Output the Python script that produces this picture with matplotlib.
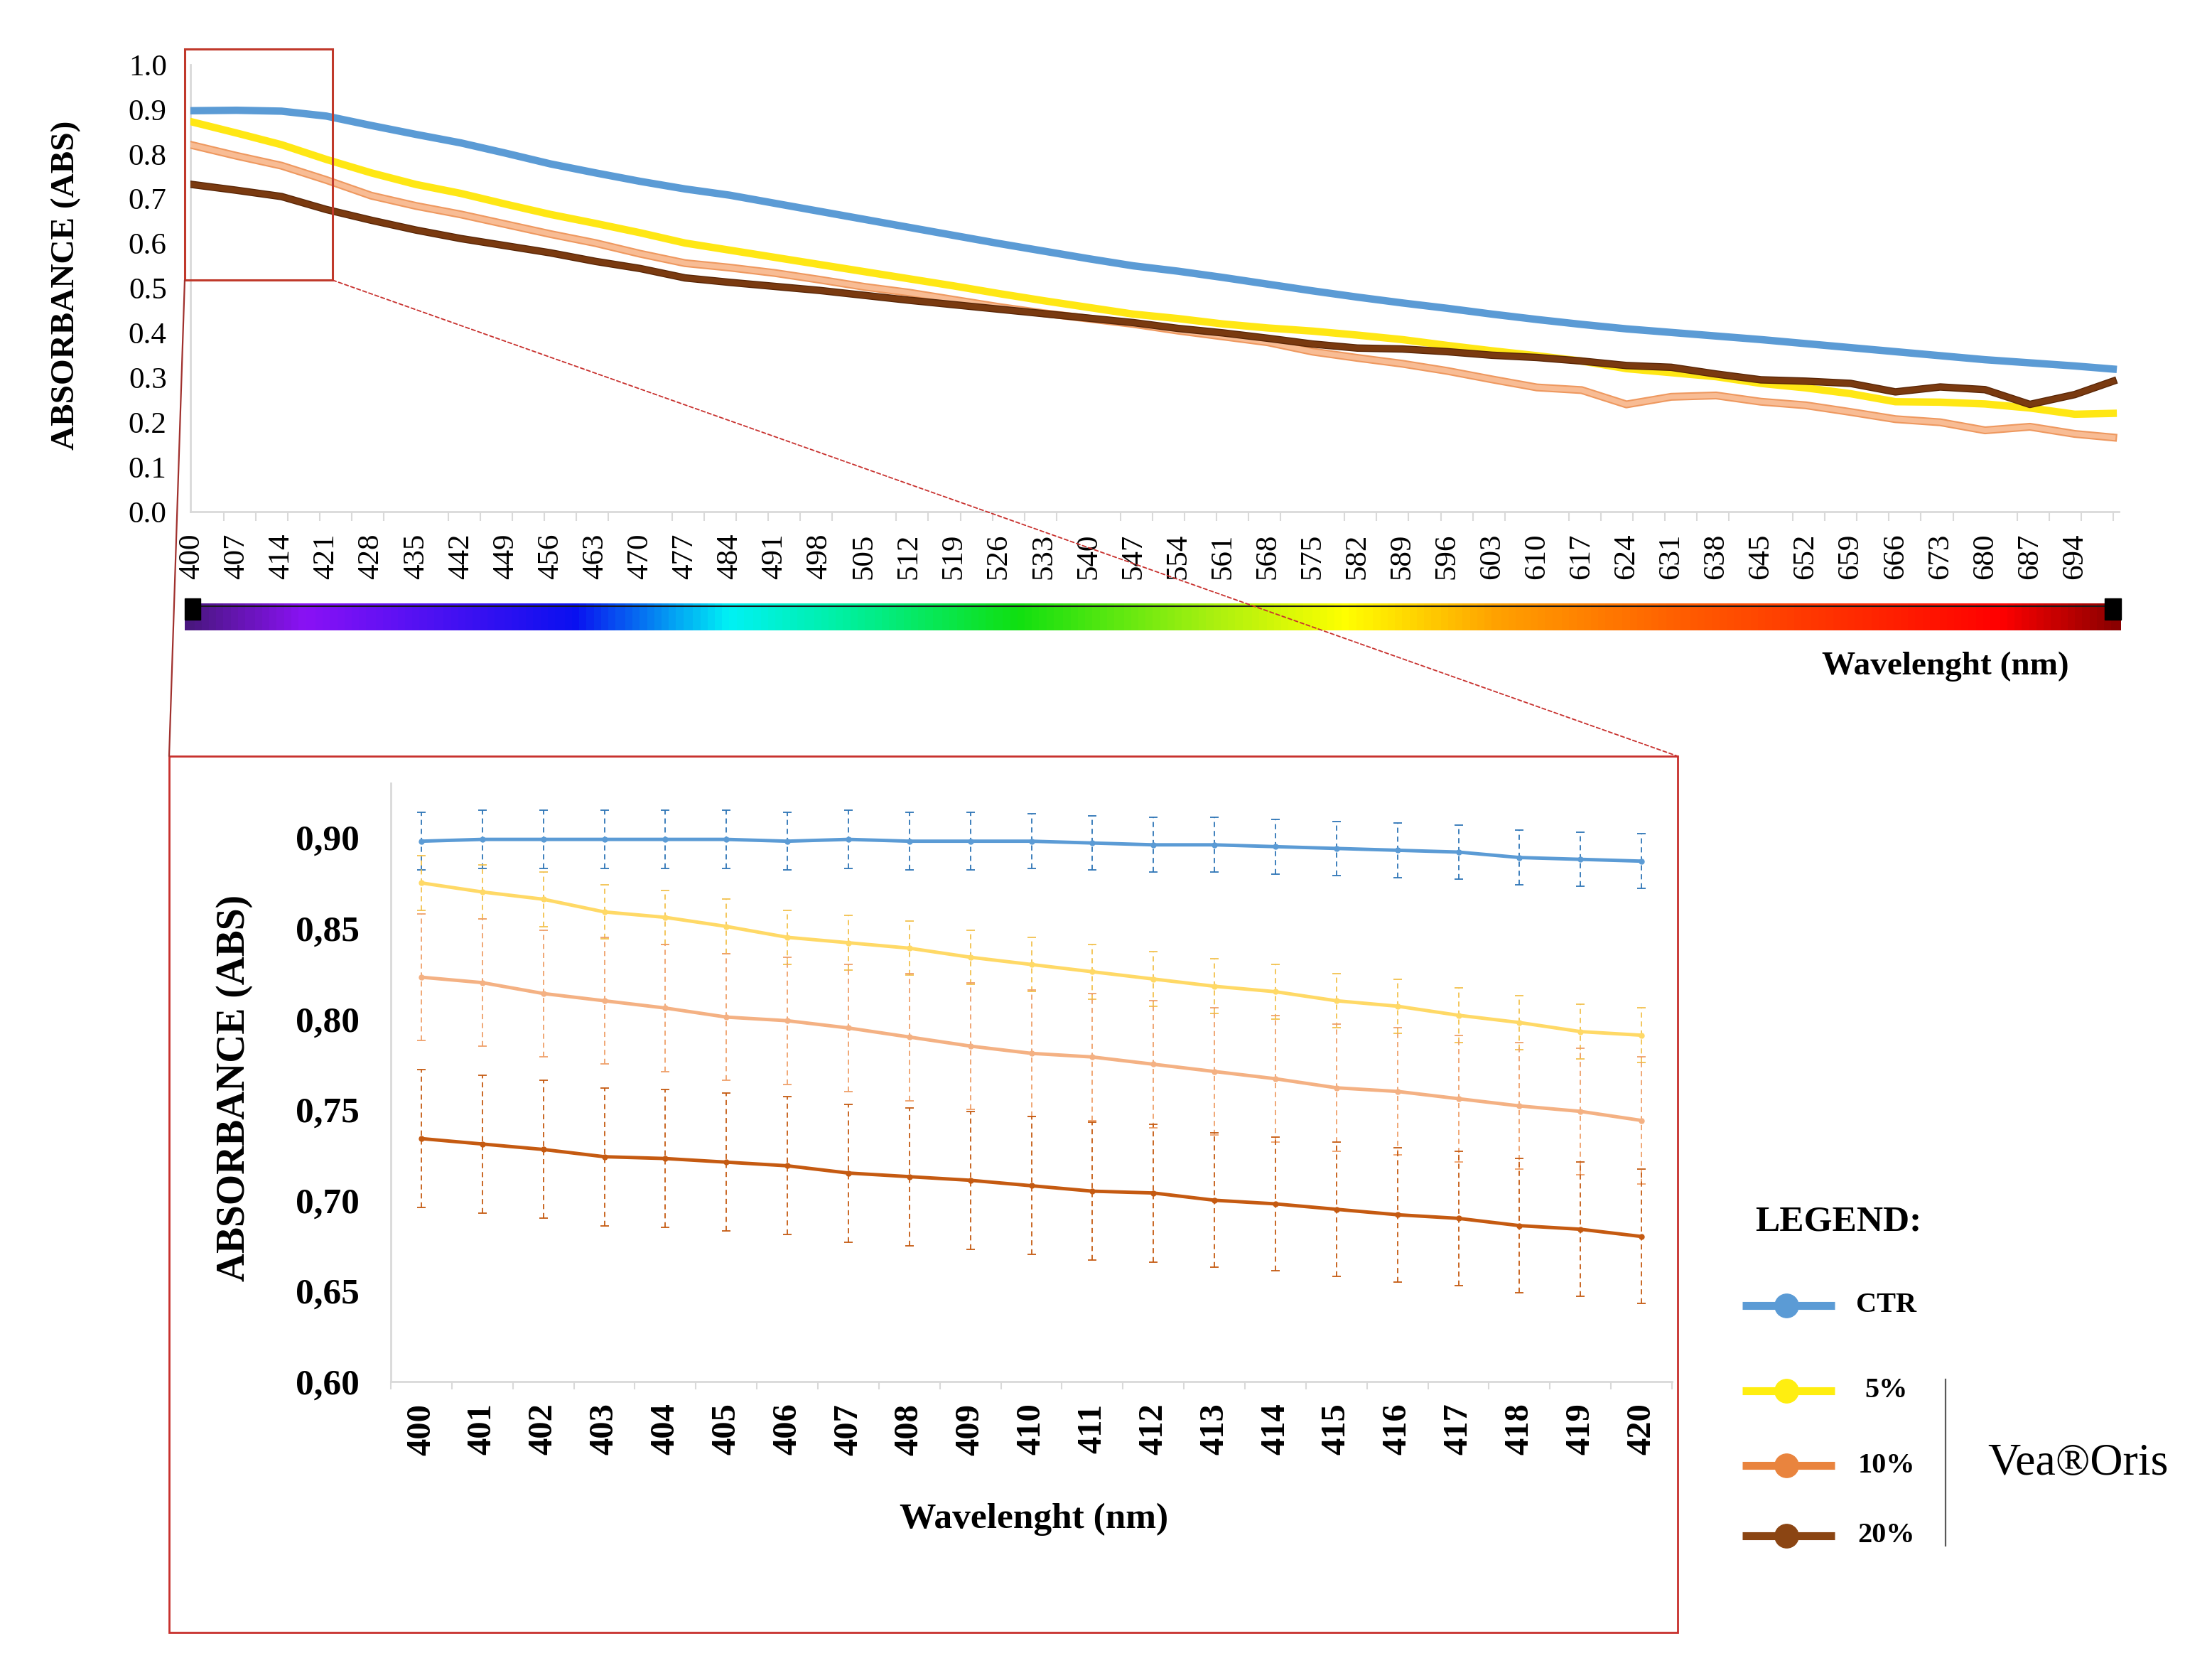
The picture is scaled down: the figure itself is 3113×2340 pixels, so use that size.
import numpy as np
import matplotlib
matplotlib.use("Agg")
import matplotlib.pyplot as plt
import matplotlib.patheffects as pe
from matplotlib.colors import LinearSegmentedColormap
from matplotlib.patches import Rectangle, ConnectionPatch
from matplotlib.ticker import FuncFormatter

plt.rcParams['font.family'] = ['Liberation Serif', 'DejaVu Serif']

wl_top = [400, 407, 414, 421, 428, 435, 442, 449, 456, 463, 470, 477, 484, 491,
          498, 505, 512, 519, 526, 533, 540, 547, 554, 561, 568, 575, 582, 589,
          596, 603, 610, 617, 624, 631, 638, 645, 652, 659, 666, 673, 680, 687,
          694, 700]
ctr_top = [.897, .898, .896, .885, .864, .844, .825, .802, .778, .758, .739, .722,
           .708, .690, .672, .654, .636, .618, .600, .583, .566, .550, .538, .524,
           .509, .494, .480, .467, .455, .442, .430, .419, .409, .401, .393, .385,
           .376, .367, .358, .349, .340, .333, .326, .319]
p5_top = [.872, .847, .821, .788, .758, .732, .712, .688, .665, .645, .624, .601,
          .585, .569, .553, .537, .521, .505, .488, .472, .457, .442, .432, .420,
          .411, .404, .395, .385, .372, .360, .349, .337, .320, .311, .302, .287,
          .277, .264, .246, .245, .241, .232, .218, .220]
p10_top = [.820, .796, .774, .742, .707, .684, .665, .643, .621, .601, .577, .556,
           .546, .534, .519, .503, .490, .474, .458, .444, .432, .420, .405, .392,
           .379, .358, .344, .331, .315, .296, .278, .272, .240, .257, .260, .246,
           .238, .223, .207, .200, .182, .190, .174, .166]
p20_top = [.732, .719, .705, .676, .652, .630, .611, .595, .579, .560, .544, .523,
           .513, .504, .495, .484, .473, .463, .453, .443, .433, .423, .410, .400,
           .388, .375, .366, .364, .358, .350, .345, .337, .327, .323, .308, .295,
           .292, .287, .268, .279, .273, .240, .262, .292]
top_ticks = list(range(400, 695, 7))

# ---- zoomed 400-420 nm (inset) ----
wl_in = list(range(400, 421))
ctr_in = [.898, .899, .899, .899, .899, .899, .898, .899, .898, .898, .898,
          .897, .896, .896, .895, .894, .893, .892, .889, .888, .887]
p5_in = [.875, .870, .866, .859, .856, .851, .845, .842, .839, .834, .830,
         .826, .822, .818, .815, .810, .807, .802, .798, .793, .791]
p10_in = [.823, .820, .814, .810, .806, .801, .799, .795, .790, .785, .781,
          .779, .775, .771, .767, .762, .760, .756, .752, .749, .744]
p20_in = [.734, .731, .728, .724, .723, .721, .719, .715, .713, .711, .708,
          .705, .704, .700, .698, .695, .692, .690, .686, .684, .680]
ctr_err = [.016, .016, .016, .016, .016, .016, .016, .016, .016, .016, .015,
           .015, .015, .015, .015, .015, .015, .015, .015, .015, .015]
p5_err = [.015, .015, .015, .015, .015, .015, .015, .015, .015, .015, .015,
          .015, .015, .015, .015, .015, .015, .015, .015, .015, .015]
p10_err = [.035, .035, .035, .035, .035, .035, .035, .035, .035, .035, .035,
           .035, .035, .035, .035, .035, .035, .035, .035, .035, .035]
p20_err = [.038, .038, .038, .038, .038, .038, .038, .038, .038, .038, .038,
           .038, .038, .037, .037, .037, .037, .037, .037, .037, .037]
in_yticks = [0.60, 0.65, 0.70, 0.75, 0.80, 0.85, 0.90]

legend_labels = ['CTR', '5%', '10%', '20%']
legend_colors = ['#5B9BD5', '#FFEE10', '#E9843E', '#8B4513']

W, H = 3113, 2340
fig = plt.figure(figsize=(W / 100, H / 100), dpi=100)


def box(l, t, r, b):
    return [l / W, 1 - b / H, (r - l) / W, (b - t) / H]


# overlay in pixel coordinates for the decorations
ov = fig.add_axes([0, 0, 1, 1])
ov.set_xlim(0, W)
ov.set_ylim(H, 0)
ov.axis('off')
ov.set_zorder(10)
ov.patch.set_alpha(0)

# ---------------- top panel ----------------
ax = fig.add_axes(box(268, 91, 2982, 720))
ax.plot(wl_top, ctr_top, color='#5B9BD5', lw=7.5, zorder=3)
ax.plot(wl_top, p5_top, color='#FFE714', lw=7.5, zorder=4)
ax.plot(wl_top, p10_top, color='#F8BC94', lw=5, zorder=5,
        path_effects=[pe.Stroke(linewidth=8, foreground='#EE985F'), pe.Normal()])
ax.plot(wl_top, p20_top, color='#7A3A10', lw=5.5, zorder=6,
        path_effects=[pe.Stroke(linewidth=7.5, foreground='#5A2606'), pe.Normal()])
ax.set_xlim(399.78, 700.9)
ax.set_ylim(0, 1.0)
ax.set_yticks(np.arange(0, 1.01, 0.1))
ax.yaxis.set_major_formatter(FuncFormatter(lambda v, p: f"{v:.1f}"))
ax.set_xticks(top_ticks)
ax.set_xticklabels([str(t) for t in top_ticks], rotation=90)
ax.set_xticks(np.arange(400, 701, 5), minor=True)
ax.tick_params(axis='x', which='major', length=0, pad=22, labelsize=31)
ax.tick_params(axis='x', which='minor', length=9, color='#D9D9D9', width=1.5)
ax.tick_params(axis='y', length=0, pad=24, labelsize=31)
for s in ['top', 'right']:
    ax.spines[s].set_visible(False)
for s in ['left', 'bottom']:
    ax.spines[s].set_color('#D9D9D9')
    ax.spines[s].set_linewidth(2)
ax.set_ylabel('ABSORBANCE (ABS)', fontsize=34, fontweight='bold')
ax.yaxis.set_label_coords(-0.0645, 0.507)
ax.yaxis.label.set_va('center')
ax.set_xlabel('Wavelenght (nm)', fontsize=34, fontweight='bold')
ax.xaxis.set_label_coords(0.910, -0.347)
ax.xaxis.label.set_va('center')

# zoom box over 400-421 nm
zx0, zx1, zy0, zy1 = 398.89, 421.97, 0.518, 1.035
ax.add_patch(Rectangle((zx0, zy0), zx1 - zx0, zy1 - zy0, fill=False,
                       ec='#C0392B', lw=2.2, clip_on=False, zorder=10))

# ---------------- spectrum bar ----------------
spec_cmap = LinearSegmentedColormap.from_list('spec', [
    (0.00, '#4a1780'), (0.06, '#8a12f5'), (0.20, '#0a10f0'), (0.28, '#00f2f5'),
    (0.34, '#00f0a0'), (0.43, '#10e010'), (0.53, '#a8f010'), (0.60, '#ffff00'),
    (0.68, '#ffa000'), (0.78, '#ff5a00'), (0.94, '#ff0000'), (1.00, '#8b0000')])
ax_s = fig.add_axes(box(260, 849, 2985, 887))
ax_s.imshow(np.linspace(0, 1, 800).reshape(1, -1), aspect='auto', cmap=spec_cmap,
            extent=[0, 1, 0, 1])
ax_s.set_xlim(0, 1)
ax_s.set_ylim(0, 1)
ax_s.axhline(0.9, color='#1a1a1a', lw=1.5)
ax_s.axis('off')
ov.add_patch(Rectangle((260, 842), 22, 30, color='black'))
ov.add_patch(Rectangle((2962, 842), 23, 30, color='black'))

# ---------------- inset ----------------
ov.add_patch(Rectangle((238, 1064), 2123, 1233, fill=False, ec='#C8312E', lw=2))
ax_in = fig.add_axes(box(550, 1102, 2353, 1944))
series_in = [
    (ctr_in, ctr_err, '#5B9BD5', '#2E75B6'),
    (p5_in, p5_err, '#FFD966', '#F2C14E'),
    (p10_in, p10_err, '#F4B183', '#EFA06A'),
    (p20_in, p20_err, '#C55A11', '#C55A11'),
]
for vals, errs, col, ecol in series_in:
    eb = ax_in.errorbar(wl_in, vals, yerr=errs, fmt='none', ecolor=ecol,
                        elinewidth=1.3, capsize=4, capthick=1.3, zorder=2)
    eb[2][0].set_linestyle((0, (4, 3)))
for vals, errs, col, ecol in series_in:
    ax_in.plot(wl_in, vals, color=col, lw=3.5, marker='o', ms=5, zorder=3)
ax_in.set_xlim(399.5, 420.5)
ax_in.set_ylim(0.60, 0.93)
ax_in.set_yticks(in_yticks)
ax_in.yaxis.set_major_formatter(FuncFormatter(lambda v, p: f"{v:.2f}".replace('.', ',')))
ax_in.set_xticks(wl_in)
ax_in.set_xticklabels([str(w) for w in wl_in], rotation=90)
ax_in.set_xticks(np.arange(399.5, 421, 1), minor=True)
ax_in.tick_params(axis='x', which='major', length=0, pad=22, labelsize=35)
ax_in.tick_params(axis='x', which='minor', length=8, color='#D9D9D9', width=1.5)
ax_in.tick_params(axis='y', length=0, pad=32, labelsize=37)
for lbl in ax_in.get_xticklabels() + ax_in.get_yticklabels():
    lbl.set_fontweight('bold')
for s in ['top', 'right']:
    ax_in.spines[s].set_visible(False)
for s in ['left', 'bottom']:
    ax_in.spines[s].set_color('#D9D9D9')
    ax_in.spines[s].set_linewidth(2)
ax_in.set_ylabel('ABSORBANCE (ABS)', fontsize=40, fontweight='bold')
ax_in.yaxis.set_label_coords(-0.122, 0.490)
ax_in.yaxis.label.set_va('center')
ax_in.set_xlabel('Wavelenght (nm)', fontsize=37, fontweight='bold')
ax_in.xaxis.set_label_coords(0.502, -0.230)
ax_in.xaxis.label.set_va('center')

# connector lines from the zoom box to the inset frame
fig.add_artist(ConnectionPatch(xyA=(zx0, zy0), coordsA=ax.transData,
                               xyB=(238, 1064), coordsB=ov.transData,
                               color='#A0302D', lw=1.6, zorder=20))
fig.add_artist(ConnectionPatch(xyA=(zx1, zy0), coordsA=ax.transData,
                               xyB=(2361, 1064), coordsB=ov.transData,
                               color='#C8312E', lw=1.3, ls=(0, (3, 2)), zorder=20))

# ---------------- legend ----------------
ov.text(2587, 1719, 'LEGEND:', fontsize=37, fontweight='bold', ha='center', va='center')
leg_y = [1837, 1957, 2062, 2161]
for lab, col, yy in zip(legend_labels, legend_colors, leg_y):
    ov.plot([2452, 2582], [yy, yy], color=col, lw=8, solid_capstyle='butt')
    ov.plot([2514], [yy], 'o', color=col, ms=24)
    ov.text(2655, yy, lab, fontsize=29, fontweight='bold', ha='center', va='center')
ov.plot([2738, 2738], [1941, 2175], color='#595959', lw=1.6)
ov.text(2924, 2060, 'Vea\u00aeOris', fontsize=46, ha='center', va='center')

fig.savefig('out.png', dpi=100, facecolor='white')
